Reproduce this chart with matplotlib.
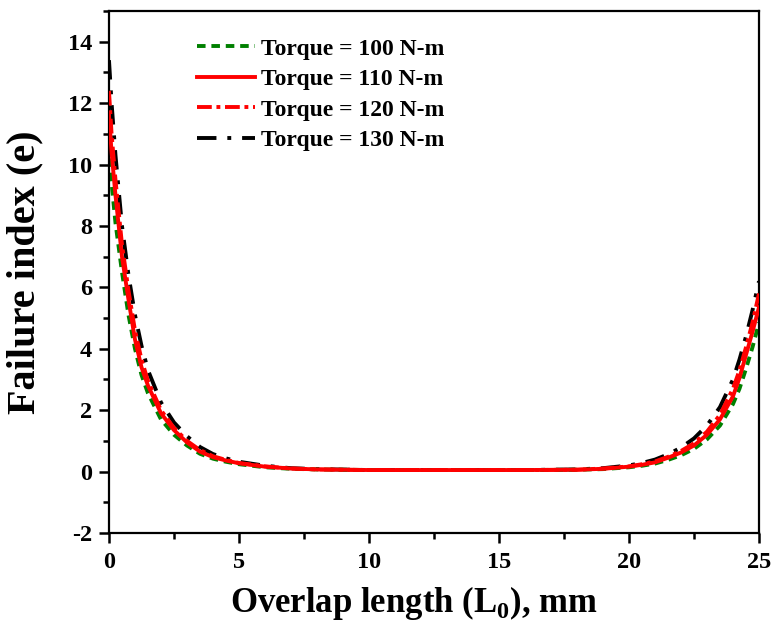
import matplotlib
matplotlib.use("Agg")
import matplotlib.pyplot as plt
from matplotlib.ticker import MultipleLocator

plt.rcParams['font.family'] = ['Liberation Serif', 'DejaVu Serif']
plt.rcParams['font.weight'] = 'bold'
plt.rcParams['mathtext.fontset'] = 'custom'
plt.rcParams['mathtext.rm'] = 'Liberation Serif:bold'
plt.rcParams['mathtext.bf'] = 'Liberation Serif:bold'
plt.rcParams['axes.unicode_minus'] = False

x = [0, 0.1, 0.25, 0.5, 0.75, 1.0, 1.25, 1.5, 2.0, 2.5, 3.0, 3.5, 4.0, 4.5, 5.0,
     6.0, 7.0, 8.0, 10.0, 12.0, 14.0, 16.0, 18.0, 19.0, 20.0, 20.5, 21.0, 21.5,
     22.0, 22.5, 23.0, 23.5, 24.0, 24.25, 24.5, 24.75, 25.0]

t100 = [10.2, 9.4, 8.1, 6.5, 5.1, 4.0, 3.15, 2.55, 1.7, 1.2, 0.85, 0.58, 0.42, 0.32, 0.24,
        0.14, 0.09, 0.07, 0.05, 0.05, 0.05, 0.05, 0.06, 0.08, 0.14, 0.19, 0.26, 0.38,
        0.53, 0.74, 1.05, 1.5, 2.2, 2.7, 3.35, 4.05, 4.85]
t110 = [11.6, 10.4, 9.0, 7.0, 5.6, 4.3, 3.4, 2.8, 1.9, 1.35, 0.95, 0.65, 0.47, 0.36, 0.27,
        0.16, 0.10, 0.07, 0.05, 0.05, 0.05, 0.05, 0.06, 0.09, 0.16, 0.22, 0.30, 0.45,
        0.62, 0.85, 1.2, 1.7, 2.45, 3.05, 3.8, 4.55, 5.35]
t120 = [12.4, 11.0, 9.5, 7.4, 5.9, 4.6, 3.65, 2.95, 2.0, 1.42, 1.0, 0.70, 0.50, 0.38, 0.28,
        0.17, 0.10, 0.07, 0.05, 0.05, 0.05, 0.05, 0.06, 0.10, 0.17, 0.24, 0.33, 0.48,
        0.67, 0.92, 1.3, 1.85, 2.7, 3.3, 4.05, 4.85, 5.8]
t130 = [13.4, 12.0, 10.3, 8.0, 6.4, 5.1, 4.1, 3.3, 2.25, 1.6, 1.15, 0.80, 0.57, 0.43, 0.32,
        0.19, 0.11, 0.08, 0.05, 0.05, 0.05, 0.05, 0.07, 0.11, 0.20, 0.28, 0.39, 0.56,
        0.78, 1.08, 1.5, 2.1, 3.0, 3.65, 4.4, 5.25, 6.2]

labels = ["Torque = 100 N-m", "Torque = 110 N-m", "Torque = 120 N-m", "Torque = 130 N-m"]

fig = plt.figure(figsize=(7.74, 6.23), dpi=100)
ax = fig.add_axes([0.1408, 0.1445, 0.8398, 0.8378])

lw = 2.8
ax.plot(x, t100, color='#008000', lw=lw, linestyle=(0, (2.2, 1.5)), label=labels[0], zorder=2)
ax.plot(x, t110, color='#ff0000', lw=lw, linestyle='-', label=labels[1], zorder=3)
ax.plot(x, t120, color='#ff0000', lw=lw, linestyle=(0, (3.8, 1.2, 1.0, 1.2)), label=labels[2], zorder=4)
ax.plot(x, t130, color='#000000', lw=lw, linestyle=(0, (5.0, 2.8, 1.0, 2.8)), label=labels[3], zorder=1)

ax.set_xlim(0, 25)
ax.set_ylim(-2, 15)
ax.xaxis.set_major_locator(MultipleLocator(5))
ax.xaxis.set_minor_locator(MultipleLocator(2.5))
ax.yaxis.set_major_locator(MultipleLocator(2))
ax.yaxis.set_minor_locator(MultipleLocator(1))
ax.set_yticks(range(-2, 15, 2))

ax.tick_params(which='both', direction='out', top=False, right=False, width=1.8)
ax.tick_params(which='major', length=7, labelsize=17.5)
ax.tick_params(which='minor', length=4.5)
ax.tick_params(axis='x', which='major', pad=7)
ax.tick_params(axis='y', which='major', pad=5)
for lab in ax.get_xticklabels() + ax.get_yticklabels():
    lab.set_fontweight('bold')
for sp in ax.spines.values():
    sp.set_linewidth(1.6)

ax.set_xlabel(r"Overlap length (L$_{\mathbf{0}}$), mm", fontsize=25, fontweight='bold')
ax.xaxis.set_label_coords(0.47, -0.098)
ax.set_ylabel("Failure index (e)", fontsize=29, fontweight='bold')
ax.yaxis.set_label_coords(-0.1015, 0.5)

leg = ax.legend(loc='upper left', bbox_to_anchor=(0.1354, 0.948), frameon=False,
                prop={'size': 17, 'weight': 'bold'}, handlelength=2.45,
                handletextpad=0.25, labelspacing=0.38, borderpad=0, borderaxespad=0)

fig.savefig("out.png", dpi=100)
